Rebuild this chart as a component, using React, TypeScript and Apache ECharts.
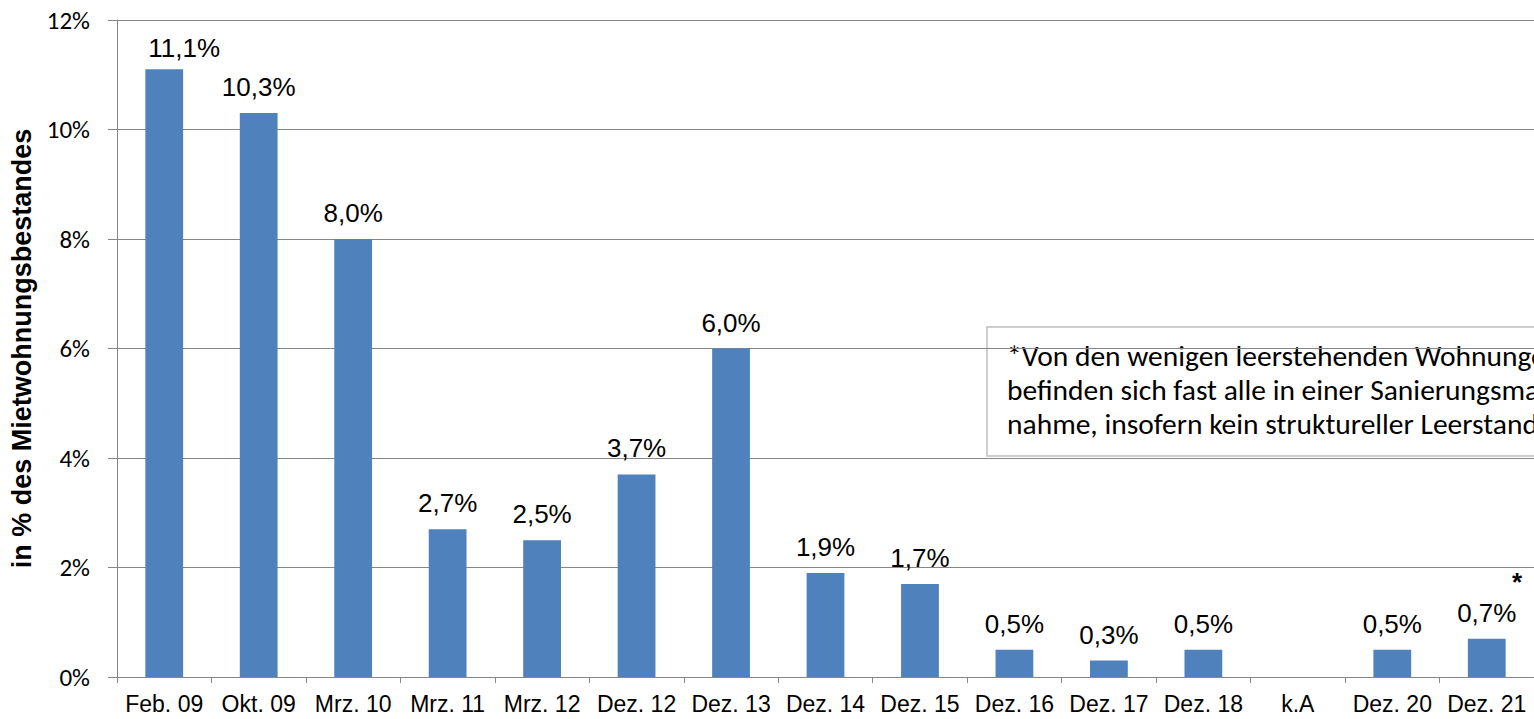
import React, { useEffect, useRef } from "react";
import * as echarts from "echarts";

const categories = [
  "Feb. 09", "Okt. 09", "Mrz. 10", "Mrz. 11", "Mrz. 12", "Dez. 12", "Dez. 13",
  "Dez. 14", "Dez. 15", "Dez. 16", "Dez. 17", "Dez. 18", "k.A", "Dez. 20", "Dez. 21",
];
const values: (number | null)[] = [
  11.1, 10.3, 8.0, 2.7, 2.5, 3.7, 6.0, 1.9, 1.7, 0.5, 0.3, 0.5, null, 0.5, 0.7,
];
const yTicks = [0, 2, 4, 6, 8, 10, 12];
const yTitle = "in % des Mietwohnungsbestandes";
const noteLines = [
  "*Von den wenigen leerstehenden Wohnungen",
  "befinden sich fast alle in einer Sanierungsmaß-",
  "nahme, insofern kein struktureller Leerstand.",
];
const starMark = "*";

const ARIAL = "'Liberation Sans', Arial, sans-serif";
const CALIBRI = "Carlito, Lato, sans-serif";

export default function App() {
  const ref = useRef<HTMLDivElement>(null);
  useEffect(() => {
    if (!ref.current) return;
    const chart = echarts.init(ref.current, null, { renderer: "svg" });
    const grey = "#868686";
    const barData = values.map((v, i) =>
      i === 0 ? { value: v, label: { offset: [20, 5] } } : v
    );
    chart.setOption({
      animation: false,
      backgroundColor: "#ffffff",
      grid: { left: 117, right: -4, top: 20, bottom: 42, containLabel: false },
      xAxis: {
        type: "category",
        data: categories,
        axisLine: { lineStyle: { color: grey, width: 1 } },
        axisTick: { show: true, length: 6, lineStyle: { color: grey } },
        axisLabel: {
          color: "#000",
          fontFamily: ARIAL,
          fontSize: 23,
          margin: 15,
          interval: 0,
        },
      },
      yAxis: {
        type: "value",
        min: yTicks[0],
        max: yTicks[yTicks.length - 1],
        interval: 2,
        name: yTitle,
        nameLocation: "middle",
        nameRotate: 90,
        nameGap: 76,
        nameTextStyle: {
          color: "#000",
          fontFamily: ARIAL,
          fontWeight: "bold",
          fontSize: 27,
        },
        axisLine: { show: true, lineStyle: { color: grey, width: 1 } },
        axisTick: { show: true, length: 9, inside: false, lineStyle: { color: grey } },
        axisLabel: {
          color: "#000",
          fontFamily: CALIBRI,
          fontSize: 25,
          margin: 27,
          formatter: (v: number) => `${v}%`,
        },
        splitLine: { show: true, lineStyle: { color: grey, width: 1 } },
      },
      series: [
        {
          type: "bar",
          data: barData,
          barWidth: "40%",
          itemStyle: { color: "#4F81BD" },
          label: {
            show: true,
            position: "top",
            distance: 13,
            color: "#000",
            fontFamily: ARIAL,
            fontSize: 26,
            formatter: (p: any) =>
              p.value == null ? "" : `${Number(p.value).toFixed(1).replace(".", ",")}%`,
          },
        },
      ],
      graphic: [
        {
          type: "group",
          z: 100,
          children: [
            {
              type: "rect",
              x: 987,
              y: 327,
              shape: { x: 0, y: 0, width: 620, height: 129 },
              style: { fill: "#ffffff", stroke: "#BFBFBF", lineWidth: 1.5 },
            },
            {
              type: "text",
              x: 1007,
              y: 339,
              style: {
                text: noteLines.join("\n"),
                fill: "#000",
                font: `29.5px ${CALIBRI}`,
                lineHeight: 34,
                verticalAlign: "top",
                align: "left",
              },
            },
          ],
        },
        {
          type: "text",
          x: 1517,
          y: 582,
          z: 100,
          style: {
            text: starMark,
            fill: "#000",
            font: `bold 26px ${ARIAL}`,
            align: "center",
            verticalAlign: "middle",
          },
        },
      ],
    });
    return () => chart.dispose();
  }, []);
  return (
    <div
      ref={ref}
      style={{ position: "fixed", left: 0, top: 0, width: "1534px", height: "719px", overflow: "hidden" }}
    />
  );
}
